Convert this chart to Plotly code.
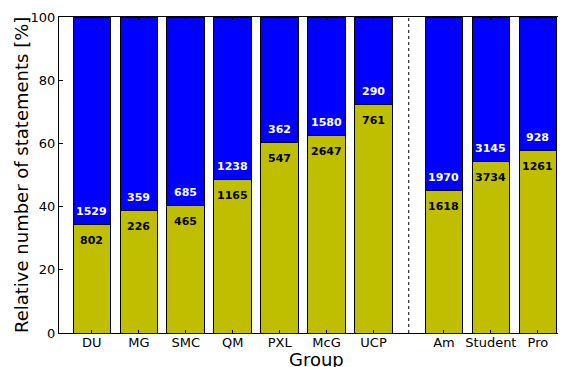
import plotly.graph_objects as go

groups = ["DU", "MG", "SMC", "QM", "PXL", "McG", "UCP", "Am", "Student", "Pro"]
positions = [0, 1, 2, 3, 4, 5, 6, 7.5, 8.5, 9.5]
bottom_counts = [802, 226, 465, 1165, 547, 2647, 761, 1618, 3734, 1261]
top_counts = [1529, 359, 685, 1238, 362, 1580, 290, 1970, 3145, 928]
separator_x = 6.75
y_ticks = [0, 20, 40, 60, 80, 100]

totals = [b + t for b, t in zip(bottom_counts, top_counts)]
bottom_pct = [100.0 * b / s for b, s in zip(bottom_counts, totals)]
top_pct = [100.0 * t / s for t, s in zip(top_counts, totals)]

fig = go.Figure()
fig.add_trace(go.Bar(x=positions, y=bottom_pct, width=0.8,
                     marker=dict(color="#bfbf00", line=dict(color="black", width=1)),
                     showlegend=False, hoverinfo="skip"))
fig.add_trace(go.Bar(x=positions, y=top_pct, width=0.8,
                     marker=dict(color="#0000ff", line=dict(color="black", width=1)),
                     showlegend=False, hoverinfo="skip"))

for x, p, b, t in zip(positions, bottom_pct, bottom_counts, top_counts):
    fig.add_annotation(x=x, y=p, xref="x", yref="y", text=f"<b>{t}</b>", showarrow=False,
                       yshift=13, font=dict(family="DejaVu Sans", size=11, color="white"))
    fig.add_annotation(x=x, y=p, xref="x", yref="y", text=f"<b>{b}</b>", showarrow=False,
                       yshift=-16, font=dict(family="DejaVu Sans", size=11, color="black"))

fig.add_shape(type="line", xref="x", yref="y", x0=separator_x, x1=separator_x, y0=0, y1=100,
              line=dict(color="black", width=1, dash="3px,3px"))

# axis titles as annotations for precise placement
fig.add_annotation(x=0.5, y=0, xref="paper", yref="paper", text="Group", showarrow=False,
                   xanchor="center", yanchor="middle", xshift=4, yshift=-26,
                   font=dict(family="DejaVu Sans", size=18, color="black"))
fig.add_annotation(x=0, y=0.5, xref="paper", yref="paper", text="Relative number of statements [%]",
                   showarrow=False, textangle=-90, xanchor="center", yanchor="middle", xshift=-38,
                   font=dict(family="DejaVu Sans", size=18, color="black"))

# the page body adds an 8px offset; compensate in figure size/margins
fig.update_layout(
    barmode="stack",
    width=558, height=359,
    margin=dict(l=51, r=0, t=9, b=34, autoexpand=False),
    plot_bgcolor="white", paper_bgcolor="white",
    font=dict(family="DejaVu Sans", color="black"),
    xaxis=dict(range=[-0.7, 10.1], tickmode="array", tickvals=positions, ticktext=groups,
               automargin=False, ticklabelstandoff=-3,
               showgrid=False, zeroline=False, showline=True, linecolor="black", linewidth=1,
               mirror="allticks", ticks="inside", ticklen=3, tickcolor="black",
               tickfont=dict(size=13)),
    yaxis=dict(range=[0, 100], tickmode="array", tickvals=y_ticks, automargin=False,
               showgrid=False, zeroline=False, showline=True, linecolor="black", linewidth=1,
               mirror="allticks", ticks="inside", ticklen=4, tickcolor="black",
               tickfont=dict(size=13)),
)

fig.write_html("out.html")
